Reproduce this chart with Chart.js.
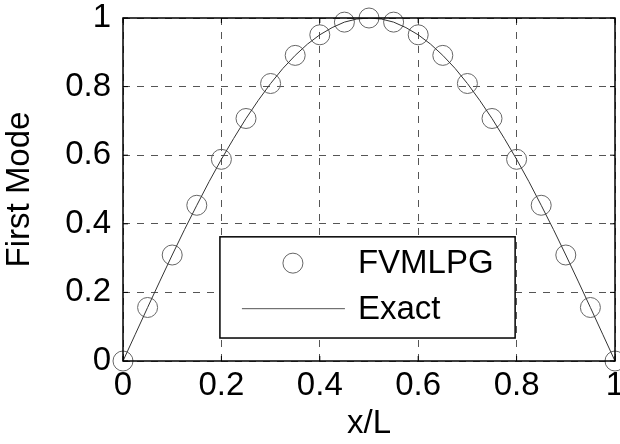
<!DOCTYPE html>
<html>
<head>
<meta charset="utf-8">
<script src="https://cdn.jsdelivr.net/npm/chart.js@4.4.1/dist/chart.umd.min.js"></script>
<style>
  html, body { margin: 0; padding: 0; background: #fff; }
  #wrap { width: 620px; height: 444px; }
</style>
</head>
<body>
<div id="wrap"><canvas id="chart" width="620" height="444"></canvas></div>
<script>
// sample nodes (circles)
const nodeX = [0, 0.05, 0.1, 0.15, 0.2, 0.25, 0.3, 0.35, 0.4, 0.45, 0.5,
  0.55, 0.6, 0.65, 0.7, 0.75, 0.8, 0.85, 0.9, 0.95, 1];
const fvmlpgY = [0, 0.156, 0.309, 0.454, 0.588, 0.707, 0.809, 0.891, 0.951, 0.988, 1.0,
  0.988, 0.951, 0.891, 0.809, 0.707, 0.588, 0.454, 0.309, 0.156, 0];

// exact curve (thin line)
const exactX = [0, 0.025, 0.05, 0.075, 0.1, 0.125, 0.15, 0.175, 0.2, 0.225, 0.25,
  0.275, 0.3, 0.325, 0.35, 0.375, 0.4, 0.425, 0.45, 0.475, 0.5,
  0.525, 0.55, 0.575, 0.6, 0.625, 0.65, 0.675, 0.7, 0.725, 0.75,
  0.775, 0.8, 0.825, 0.85, 0.875, 0.9, 0.925, 0.95, 0.975, 1];
const exactY = [0, 0.078, 0.156, 0.233, 0.309, 0.383, 0.454, 0.523, 0.588, 0.649, 0.707,
  0.760, 0.809, 0.853, 0.891, 0.924, 0.951, 0.972, 0.988, 0.997, 1.0,
  0.997, 0.988, 0.972, 0.951, 0.924, 0.891, 0.853, 0.809, 0.760, 0.707,
  0.649, 0.588, 0.523, 0.454, 0.383, 0.309, 0.233, 0.156, 0.078, 0];

const xTicks = [0, 0.2, 0.4, 0.6, 0.8, 1];
const xTickLabels = ["0", "0.2", "0.4", "0.6", "0.8", "1"];
const yTicks = [0, 0.2, 0.4, 0.6, 0.8, 1];
const yTickLabels = ["0", "0.2", "0.4", "0.6", "0.8", "1"];

const FONT = "'Liberation Sans', Arial, sans-serif";

// black box round the plot area, with small inward ticks
const framePlugin = {
  id: "frame",
  afterDatasetsDraw(chart) {
    const { ctx, chartArea: a } = chart;
    const xs = chart.scales.x, ys = chart.scales.y;
    ctx.save();
    ctx.strokeStyle = "#000";
    ctx.lineWidth = 1;
    ctx.beginPath();
    xTicks.forEach((v) => {
      const px = xs.getPixelForValue(v);
      ctx.moveTo(px, a.bottom); ctx.lineTo(px, a.bottom - 5);
      ctx.moveTo(px, a.top); ctx.lineTo(px, a.top + 5);
    });
    yTicks.forEach((v) => {
      const py = ys.getPixelForValue(v);
      ctx.moveTo(a.left, py); ctx.lineTo(a.left + 5, py);
      ctx.moveTo(a.right, py); ctx.lineTo(a.right - 5, py);
    });
    ctx.stroke();
    ctx.lineWidth = 1.5;
    ctx.strokeRect(a.left, a.top, a.right - a.left, a.bottom - a.top);
    ctx.restore();
  },
};

// boxed legend inside the axes
const boxLegend = {
  id: "boxLegend",
  afterDraw(chart) {
    const { ctx } = chart;
    const xs = chart.scales.x, ys = chart.scales.y;
    const l = xs.getPixelForValue(0.197), r = xs.getPixelForValue(0.797);
    const t = ys.getPixelForValue(0.362), b = ys.getPixelForValue(0.067);
    ctx.save();
    ctx.fillStyle = "#fff";
    ctx.fillRect(l, t, r - l, b - t);
    ctx.strokeStyle = "#000";
    ctx.lineWidth = 1.5;
    ctx.strokeRect(l, t, r - l, b - t);

    const row1 = t + (b - t) * 0.26;
    const row2 = t + (b - t) * 0.71;
    ctx.strokeStyle = "#666";
    ctx.lineWidth = 1;
    ctx.beginPath();
    ctx.arc(l + 73, row1, 10, 0, Math.PI * 2);
    ctx.stroke();
    ctx.strokeStyle = "#555";
    ctx.beginPath();
    ctx.moveTo(l + 22, row2);
    ctx.lineTo(l + 125, row2);
    ctx.stroke();

    ctx.fillStyle = "#000";
    ctx.font = "33px " + FONT;
    ctx.textBaseline = "middle";
    ctx.textAlign = "left";
    ctx.fillText("FVMLPG", l + 138, row1 + 1);
    ctx.fillText("Exact", l + 138, row2 + 1);
    ctx.restore();
  },
};

new Chart(document.getElementById("chart"), {
  type: "scatter",
  data: {
    datasets: [
      {
        label: "FVMLPG",
        data: nodeX.map((x, i) => ({ x: x, y: fvmlpgY[i] })),
        showLine: false,
        pointStyle: "circle",
        pointRadius: 10,
        pointBorderWidth: 1,
        pointBorderColor: "#666",
        pointBackgroundColor: "rgba(0,0,0,0)",
        clip: 12,
        order: 2,
      },
      {
        label: "Exact",
        data: exactX.map((x, i) => ({ x: x, y: exactY[i] })),
        showLine: true,
        borderColor: "#333",
        borderWidth: 1,
        pointRadius: 0,
        tension: 0,
        order: 1,
      },
    ],
  },
  options: {
    responsive: false,
    animation: false,
    devicePixelRatio: 1,
    layout: { autoPadding: false, padding: { top: 18, right: 5, left: 0, bottom: 0 } },
    plugins: {
      legend: { display: false },
      tooltip: { enabled: false },
    },
    scales: {
      x: {
        type: "linear",
        min: 0,
        max: 1,
        afterBuildTicks: (s) => { s.ticks = xTicks.map((v) => ({ value: v })); },
        afterFit: (s) => { s.height = 83; s.paddingLeft = 0; s.paddingRight = 0; },
        ticks: {
          callback: (v) => xTickLabels[xTicks.indexOf(v)],
          color: "#000",
          font: { family: FONT, size: 33 },
          padding: 5,
          maxRotation: 0,
        },
        grid: { color: "#555", lineWidth: 1, drawTicks: false },
        border: { display: false, dash: [7, 7] },
        title: {
          display: true,
          text: "x/L",
          color: "#000",
          font: { family: FONT, size: 33 },
          padding: { top: 0, bottom: 0 },
        },
      },
      y: {
        type: "linear",
        min: 0,
        max: 1,
        afterBuildTicks: (s) => { s.ticks = yTicks.map((v) => ({ value: v })); },
        afterFit: (s) => { s.width = 123; s.paddingTop = 0; s.paddingBottom = 0; },
        ticks: {
          callback: (v) => yTickLabels[yTicks.indexOf(v)],
          color: "#000",
          font: { family: FONT, size: 33 },
          padding: 12,
        },
        grid: { color: "#555", lineWidth: 1, drawTicks: false },
        border: { display: false, dash: [7, 7] },
        title: {
          display: true,
          text: "First Mode",
          color: "#000",
          font: { family: FONT, size: 33 },
          padding: { top: 0, bottom: 0 },
        },
      },
    },
  },
  plugins: [framePlugin, boxLegend],
});
</script>
</body>
</html>
